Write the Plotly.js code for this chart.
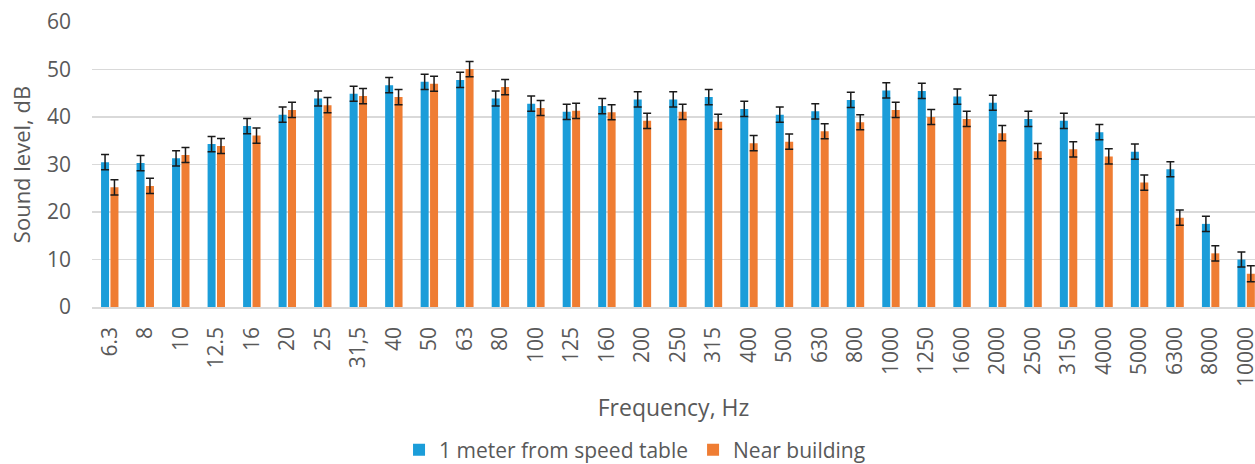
<!DOCTYPE html>
<html>
<head>
<meta charset="utf-8">
<script src="https://cdn.plot.ly/plotly-3.0.1.min.js"></script>
<style>
html,body{margin:0;padding:0;background:#fff;overflow:hidden;}
#chart{width:1255px;height:464px;}
</style>
</head>
<body>
<div id="chart"></div>
<script>
const categories = ['6.3','8','10','12.5','16','20','25','31,5','40','50','63','80','100','125','160','200','250','315','400','500','630','800','1000','1250','1600','2000','2500','3150','4000','5000','6300','8000','10000'];
const seriesNames = ['1 meter from speed table', 'Near building'];
const speedTable = [30.5,30.3,31.3,34.3,38.1,40.5,43.9,44.9,46.7,47.4,47.8,43.9,42.8,41.1,42.3,43.7,43.7,44.2,41.7,40.5,41.2,43.6,45.6,45.5,44.3,43.0,39.6,39.2,36.8,32.7,29.0,17.5,10.0];
const nearBuilding = [25.2,25.5,32.0,33.9,36.1,41.5,42.5,44.4,44.2,47.0,50.1,46.3,41.9,41.3,41.0,39.2,41.1,39.0,34.5,34.8,37.0,38.9,41.5,40.0,39.6,36.6,32.8,33.2,31.7,26.2,18.8,11.3,7.0];
const speedTableErr = [1.6,1.6,1.6,1.6,1.6,1.6,1.6,1.6,1.6,1.6,1.6,1.6,1.6,1.6,1.6,1.6,1.6,1.6,1.6,1.6,1.6,1.6,1.6,1.6,1.6,1.6,1.6,1.6,1.6,1.6,1.6,1.6,1.6];
const nearBuildingErr = [1.6,1.6,1.6,1.6,1.6,1.6,1.6,1.6,1.6,1.6,1.6,1.6,1.6,1.6,1.6,1.6,1.6,1.6,1.6,1.6,1.6,1.6,1.6,1.6,1.6,1.6,1.6,1.6,1.6,1.6,1.6,1.6,1.7];
const yTicks = [0,10,20,30,40,50,60];

const FONT = '"Open Sans", "Noto Sans", sans-serif';
const TXT = '#595959';

function errOpts(arr){
  return {type:'data', array:arr, visible:true, color:'#1a1a1a', thickness:1.5, width:4};
}

const traces = [
  {type:'bar', name:seriesNames[0], x:categories, y:speedTable,
   marker:{color:'#1b9dd9', line:{width:0}}, error_y:errOpts(speedTableErr)},
  {type:'bar', name:seriesNames[1], x:categories, y:nearBuilding,
   marker:{color:'#ef7d33', line:{width:0}}, error_y:errOpts(nearBuildingErr)}
];

const layout = {
  width:1255, height:464,
  margin:{l:91.5, r:0, t:22, b:156.7, pad:0},
  paper_bgcolor:'#ffffff', plot_bgcolor:'#ffffff',
  font:{family:FONT, color:TXT, size:21},
  barmode:'group', bargap:0.47, bargroupgap:0.15,
  showlegend:true,
  legend:{orientation:'h', xref:'container', yref:'container', x:0.506, y:0.03,
          xanchor:'center', yanchor:'middle', font:{family:FONT, size:21, color:TXT},
          itemwidth:30, traceorder:'normal', bgcolor:'rgba(0,0,0,0)'},
  xaxis:{type:'category', range:[-0.5, 32.25], tickangle:-90, ticks:'', showgrid:false,
         showline:true, linecolor:'#d9d9d9', linewidth:1.5, zeroline:false,
         tickfont:{family:FONT, size:21, color:TXT}, ticklabelstandoff:10,
         title:{text:'Frequency, Hz', font:{family:FONT, size:23, color:TXT}, standoff:14},
         automargin:false, fixedrange:true},
  yaxis:{range:[0,60], tickvals:yTicks, ticks:'', showgrid:true, gridcolor:'#d9d9d9', gridwidth:1.5,
         zeroline:false, showline:false, tickfont:{family:FONT, size:21, color:TXT},
         ticklabelstandoff:20,
         title:{text:'Sound level, dB', font:{family:FONT, size:22, color:TXT}, standoff:10},
         automargin:false, fixedrange:true}
};

Plotly.newPlot('chart', traces, layout, {displayModeBar:false, staticPlot:true});
</script>
</body>
</html>
